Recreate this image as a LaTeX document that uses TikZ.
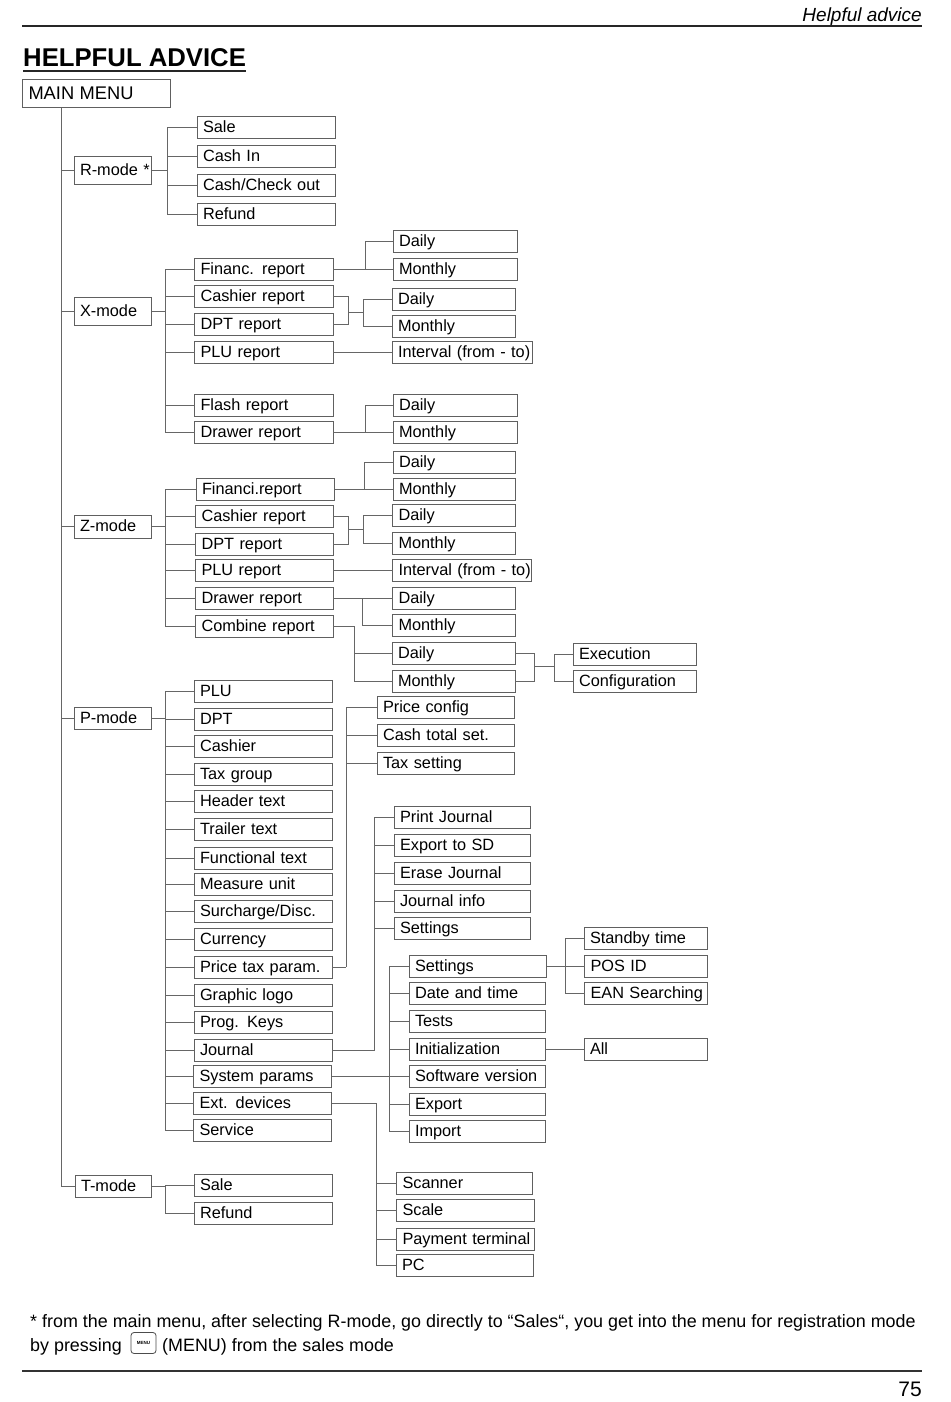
\documentclass[tikz,border=0pt]{standalone}
\usepackage{fontspec}
\setmainfont{Liberation Sans}
\usetikzlibrary{calc}

\tikzset{
  itembox/.style={draw=gray!75!black, line width=1pt, fill=white, inner xsep=6pt, inner ysep=0pt, outer sep=0pt,
    align=left, text height=13.5pt, text depth=3.5pt, font=\fontsize{16.3}{20}\selectfont},
  link/.style={draw=gray!80!black, line width=1pt},
  pagerule/.style={draw=black!85, line width=1.5pt}
}

% box from its corners: name, x1, y1, x2, y2, text
\newcommand{\itembox}[6]{
  \pgfmathsetmacro{\boxw}{#4-#2-12}
  \pgfmathsetmacro{\boxh}{#5-#3}
  \node[itembox, text width=\boxw pt, minimum height=\boxh pt] (#1) at ({(#2+#4)/2},{(#3+#5)/2}) {\mbox{#6}};
}
% children fanned out to a common point
\newcommand{\fan}[2]{
  \foreach \kid in {#2} \draw[link] (\kid.west) -| (#1);
}

\begin{document}
\begin{tikzpicture}[x=1pt, y=-1pt]
  \useasboundingbox (0,0) rectangle (950,1402);
  \fill[white] (0,0) rectangle (950,1402);

  % Page head
  \node[anchor=base east, inner sep=0pt, font=\fontsize{19}{22}\selectfont\itshape] (headtxt) at (922,21.5) {Helpful advice};
  \coordinate (headL) at (22,26);
  \coordinate (headR) at (922,26);
  \draw[pagerule] (headL) -- (headR);
  \node[anchor=base west, inner sep=0pt, font=\fontsize{25.7}{30}\bfseries] (title) at (23,67) {HELPFUL ADVICE};
  \coordinate (titleL) at (23,71);
  \coordinate (titleR) at (245.5,71);
  \draw[line width=1.6pt, draw=black!85] (titleL) -- (titleR);

  % Main menu and modes
  \itembox{mainmenu}{22.5}{80}{170.5}{108}{\fontsize{18.3}{20}\selectfont\raisebox{-1pt}{MAIN MENU}}
  \itembox{rMode}{74}{156}{151.5}{184}{R-mode *}
  \itembox{xMode}{74}{297}{151.5}{325}{X-mode}
  \itembox{zMode}{74}{515}{151.5}{538}{Z-mode}
  \itembox{pMode}{74}{707}{151.5}{729}{P-mode}
  \itembox{tMode}{75}{1175}{151.5}{1197}{T-mode}
  \coordinate (mainFoot) at (61,108);
  \fan{mainFoot}{rMode,xMode,zMode,pMode,tMode}

  % R-mode
  \itembox{rSale}{197}{117}{335.5}{138.5}{Sale}
  \itembox{rCash}{197}{145.5}{335.5}{167}{Cash In}
  \itembox{rChk}{197}{174}{335.5}{196.5}{Cash/Check out}
  \itembox{rRef}{197}{203}{335.5}{225}{Refund}
  \coordinate (rFan) at (167,170);
  \draw[link] (rMode.east) -- (rFan);
  \fan{rFan}{rSale,rCash,rChk,rRef}

  % X-mode
  \itembox{xFin}{194.5}{258}{333}{280}{Financ. report}
  \itembox{xCas}{194.5}{285}{333}{307}{Cashier report}
  \itembox{xDpt}{194.5}{313}{333}{335}{DPT report}
  \itembox{xPlu}{194.5}{341}{333}{363}{PLU report}
  \itembox{xFla}{194.5}{394}{333}{416}{Flash report}
  \itembox{xDra}{194.5}{421}{333}{443}{Drawer report}
  \coordinate (xFan) at (165,311);
  \draw[link] (xMode.east) -- (xFan);
  \fan{xFan}{xFin,xCas,xDpt,xPlu,xFla,xDra}

  \itembox{xDayA}{393}{230}{517}{252}{Daily}
  \itembox{xMonA}{393}{258}{517}{280}{Monthly}
  \coordinate (xFanA) at (365,269);
  \draw[link] (xFin.east) -- (xFanA);
  \fan{xFanA}{xDayA,xMonA}

  \itembox{xDayB}{392}{288}{515}{310}{Daily}
  \itembox{xMonB}{392}{315}{515}{337}{Monthly}
  \coordinate (xMrgB) at (348,312);
  \coordinate (xFanB) at (363,312);
  \draw[link] (xCas.east) -| (xMrgB);
  \draw[link] (xDpt.east) -| (xMrgB);
  \draw[link] (xMrgB) -- (xFanB);
  \fan{xFanB}{xDayB,xMonB}

  \itembox{xInt}{392}{341}{532}{363}{Interval (from - to)}
  \draw[link] (xPlu.east) -- (xInt.west);

  \itembox{xDayC}{393}{394}{517}{416}{Daily}
  \itembox{xMonC}{393}{421}{517}{443}{Monthly}
  \coordinate (xFanC) at (365,432);
  \draw[link] (xDra.east) -- (xFanC);
  \fan{xFanC}{xDayC,xMonC}

  % Z-mode
  \itembox{zFin}{196}{478}{334.5}{500}{Financi.report}
  \itembox{zCas}{195.5}{505}{333}{527}{Cashier report}
  \itembox{zDpt}{195.5}{533}{333}{555}{DPT report}
  \itembox{zPlu}{195.5}{559}{333}{581}{PLU report}
  \itembox{zDra}{195.5}{587}{333}{609}{Drawer report}
  \itembox{zCom}{195.5}{615}{333}{637}{Combine report}
  \coordinate (zFan) at (165,526.5);
  \draw[link] (zMode.east) -- (zFan);
  \fan{zFan}{zFin,zCas,zDpt,zPlu,zDra,zCom}

  \itembox{zDayA}{393}{451}{515.5}{473}{Daily}
  \itembox{zMonA}{393}{478}{515.5}{500}{Monthly}
  \coordinate (zFanA) at (364,489);
  \draw[link] (zFin.east) -- (zFanA);
  \fan{zFanA}{zDayA,zMonA}

  \itembox{zDayB}{392.5}{504}{515.5}{526}{Daily}
  \itembox{zMonB}{392.5}{532}{515.5}{554}{Monthly}
  \coordinate (zMrgB) at (348,529);
  \coordinate (zFanB) at (363,529);
  \draw[link] (zCas.east) -| (zMrgB);
  \draw[link] (zDpt.east) -| (zMrgB);
  \draw[link] (zMrgB) -- (zFanB);
  \fan{zFanB}{zDayB,zMonB}

  \itembox{zInt}{392.5}{559}{531.5}{581}{Interval (from - to)}
  \draw[link] (zPlu.east) -- (zInt.west);

  \itembox{zDayC}{392.5}{587}{515.5}{609}{Daily}
  \itembox{zMonC}{392.5}{614}{515.5}{636}{Monthly}
  \coordinate (zFanC) at (362.5,598);
  \draw[link] (zDra.east) -- (zDayC.west);
  \fan{zFanC}{zMonC}

  \itembox{zDayD}{392}{642}{515}{664}{Daily}
  \itembox{zMonD}{392}{670}{515}{692}{Monthly}
  \coordinate (zFanD) at (354,626);
  \draw[link] (zCom.east) -- (zFanD);
  \fan{zFanD}{zDayD,zMonD}

  \itembox{zExe}{573}{643}{696}{665}{Execution}
  \itembox{zCfg}{573}{670}{696}{692}{Configuration}
  \coordinate (zMrgE) at (534,666);
  \coordinate (zFanE) at (554,666);
  \draw[link] (zDayD.east) -| (zMrgE);
  \draw[link] (zMonD.east) -| (zMrgE);
  \draw[link] (zMrgE) -- (zFanE);
  \fan{zFanE}{zExe,zCfg}

  % P-mode
  \itembox{pPlu}{194}{680}{332}{702}{PLU}
  \itembox{pDpt}{194}{708}{332}{730}{DPT}
  \itembox{pCas}{194}{735}{332}{757}{Cashier}
  \itembox{pTax}{194}{763}{332}{785}{Tax group}
  \itembox{pHea}{194}{790}{332}{812}{Header text}
  \itembox{pTra}{194}{818}{332}{840}{Trailer text}
  \itembox{pFun}{194}{847}{332}{869}{Functional text}
  \itembox{pMea}{194}{873}{332}{895}{Measure unit}
  \itembox{pSur}{194}{900}{332}{922}{Surcharge/Disc.}
  \itembox{pCur}{194}{928}{332}{950}{Currency}
  \itembox{pPri}{194}{956}{332}{978}{Price tax param.}
  \itembox{pLog}{194}{984}{332}{1006}{Graphic logo}
  \itembox{pKey}{194}{1011}{332}{1033}{Prog. Keys}
  \itembox{pJou}{194}{1039}{332}{1061}{Journal}
  \itembox{pSys}{193.5}{1065.5}{331.5}{1087.5}{System params}
  \itembox{pExt}{193.5}{1092}{331.5}{1114}{Ext. devices}
  \itembox{pSer}{193.5}{1119}{331.5}{1141}{Service}
  \coordinate (pFan) at (165,718);
  \draw[link] (pMode.east) -- (pFan);
  \fan{pFan}{pPlu,pDpt,pCas,pTax,pHea,pTra,pFun,pMea,pSur,pCur,pPri,pLog,pKey,pJou,pSys,pExt,pSer}

  % Price tax param.
  \itembox{prCfg}{377}{696}{514.5}{718}{Price config}
  \itembox{prCsh}{377}{724}{514.5}{746}{Cash total set.}
  \itembox{prTax}{377}{752}{514.5}{774}{Tax setting}
  \coordinate (prFan) at (346,967);
  \draw[link] (pPri.east) -- (prFan);
  \fan{prFan}{prCfg,prCsh,prTax}

  % Journal
  \itembox{jPri}{394}{806}{530}{828}{Print Journal}
  \itembox{jExp}{394}{834}{530}{856}{Export to SD}
  \itembox{jEra}{394}{862}{530}{884}{Erase Journal}
  \itembox{jInf}{394}{890}{530}{912}{Journal info}
  \itembox{jSet}{394}{917}{530}{939}{Settings}
  \coordinate (jFan) at (374.5,1050);
  \draw[link] (pJou.east) -- (jFan);
  \fan{jFan}{jPri,jExp,jEra,jInf,jSet}

  % System params
  \itembox{sSet}{409}{955}{546.5}{977}{Settings}
  \itembox{sDat}{409}{982}{545.5}{1004}{Date and time}
  \itembox{sTes}{409}{1010}{545.5}{1032}{Tests}
  \itembox{sIni}{409}{1038}{545.5}{1060}{Initialization}
  \itembox{sSof}{409}{1065.5}{545.5}{1087.5}{Software version}
  \itembox{sExp}{409}{1093}{545.5}{1115}{Export}
  \itembox{sImp}{409}{1120}{545.5}{1142}{Import}
  \coordinate (sFan) at (389.5,1076.5);
  \draw[link] (pSys.east) -- (sFan);
  \fan{sFan}{sSet,sDat,sTes,sIni,sSof,sExp,sImp}

  \itembox{tStb}{584}{927}{707.5}{949}{Standby time}
  \itembox{tPos}{584.5}{955}{707.5}{977}{POS ID}
  \itembox{tEan}{584.5}{982}{707.5}{1004}{EAN Searching}
  \coordinate (tFan) at (565,966);
  \draw[link] (sSet.east) -- (tFan);
  \fan{tFan}{tStb,tPos,tEan}

  \itembox{iAll}{584}{1038}{707.5}{1060}{All}
  \draw[link] (sIni.east) -- (iAll.west);

  % Ext. devices
  \itembox{eSca}{396.5}{1172}{532.5}{1194}{Scanner}
  \itembox{eSle}{396.5}{1199}{534}{1221}{Scale}
  \itembox{ePay}{396.5}{1228}{534}{1250}{Payment terminal}
  \itembox{ePc}{396}{1254}{533.5}{1276}{PC}
  \coordinate (eFan) at (376.5,1103);
  \draw[link] (pExt.east) -- (eFan);
  \fan{eFan}{eSca,eSle,ePay,ePc}

  % T-mode
  \itembox{tSal}{194}{1174}{332}{1196}{Sale}
  \itembox{tRef}{194}{1202}{332}{1224}{Refund}
  \coordinate (tmFan) at (165,1186);
  \draw[link] (tMode.east) -- (tmFan);
  \fan{tmFan}{tSal,tRef}

  % Footnote
  \node[anchor=base west, inner sep=0pt, font=\fontsize{17.9}{22}\selectfont] (noteA) at (30,1327)
    {* from the main menu, after selecting R-mode, go directly to “Sales“, you get into the menu for registration mode};
  \node[anchor=base west, inner sep=0pt, font=\fontsize{17.9}{22}\selectfont] (noteB) at (30,1351) {by pressing};
  \node[draw=black!70, line width=0.8pt, rounded corners=3pt, minimum width=25pt, minimum height=21pt, inner sep=0pt,
    font=\fontsize{4.5}{5}\bfseries] (menukey) at (143.5,1343) {MENU};
  \node[anchor=base west, inner sep=0pt, font=\fontsize{17.9}{22}\selectfont] (noteC) at (162,1351) {(MENU) from the sales mode};

  % Page foot
  \coordinate (footL) at (22,1371);
  \coordinate (footR) at (922,1371);
  \draw[line width=1.2pt, draw=black!80] (footL) -- (footR);
  \node[anchor=base east, inner sep=0pt, font=\fontsize{21}{24}\selectfont] (pagenum) at (922,1396) {75};
\end{tikzpicture}
\end{document}
